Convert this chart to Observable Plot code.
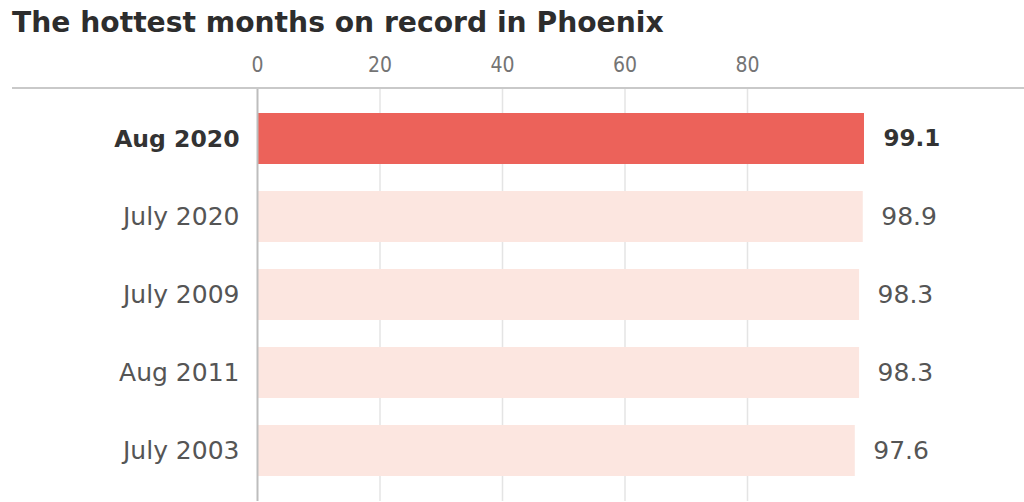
<!DOCTYPE html>
<html><head><meta charset="utf-8">
<script src="https://cdn.jsdelivr.net/npm/d3@7"></script>
<script src="https://cdn.jsdelivr.net/npm/@observablehq/plot@0.6"></script>
<style>
body{margin:0;background:#fff;font-family:"DejaVu Sans",sans-serif;}
#wrap{position:relative;width:1024px;height:502px;overflow:hidden;}
#title{position:absolute;left:12px;top:3px;font-family:"DejaVu Sans",sans-serif;font-weight:700;font-size:28.2px;line-height:40px;color:#2d2d2d;white-space:nowrap;}
#chart{position:absolute;left:0;top:50px;}
#rule{position:absolute;left:12px;right:0;top:87px;height:2px;background:#c9c9c9;}
</style></head>
<body><div id="wrap"><div id="title">The hottest months on record in Phoenix</div><div id="chart"></div><div id="rule"></div></div>
<script>
const months = ["Aug 2020","July 2020","July 2009","Aug 2011","July 2003"];
const temps = [99.1, 98.9, 98.3, 98.3, 97.6];
const highlight = "Aug 2020";
const xTicks = [0, 20, 40, 60, 80];

const data = months.map((m, i) => ({month: m, temp: temps[i], hi: m === highlight}));
const hi = data.filter(d => d.hi), lo = data.filter(d => !d.hi);

const chart = Plot.plot({
  width: 1024, height: 452,
  marginLeft: 257, marginRight: 154.5, marginTop: 38, marginBottom: 1,
  style: {fontFamily: "'DejaVu Sans', sans-serif", background: "transparent"},
  x: {domain: [0, 100], axis: null},
  y: {domain: months, axis: null, paddingInner: 0.35, paddingOuter: 0.32},
  marks: [
    Plot.ruleX(xTicks.filter(t => t !== 0), {stroke: "#e4e4e4", strokeWidth: 1.5}),
    Plot.barX(data, {y: "month", x: "temp", fill: d => d.hi ? "#ec625a" : "#fce6e0"}),
    Plot.ruleX([0], {stroke: "#bdbdbd", strokeWidth: 2}),
    Plot.text(xTicks, {x: d => d, frameAnchor: "top", lineAnchor: "middle", dy: -23, text: d => String(d), fill: "#747474", fontSize: 21, fontFamily: "'Liberation Sans Narrow', 'DejaVu Sans Condensed', sans-serif"}),
    Plot.text(hi, {y: "month", frameAnchor: "left", dx: -18, textAnchor: "end", text: "month", fill: "#333", fontSize: 23.5, fontWeight: 700}),
    Plot.text(lo, {y: "month", frameAnchor: "left", dx: -18, textAnchor: "end", text: "month", fill: "#555", fontSize: 25, fontWeight: 400}),
    Plot.text(hi, {y: "month", x: "temp", dx: 19, textAnchor: "start", text: d => d.temp.toFixed(1), fill: "#333", fontSize: 23, fontWeight: 700}),
    Plot.text(lo, {y: "month", x: "temp", dx: 18, textAnchor: "start", text: d => d.temp.toFixed(1), fill: "#555", fontSize: 25, fontWeight: 400})
  ]
});
document.getElementById("chart").appendChild(chart);
</script></body></html>
